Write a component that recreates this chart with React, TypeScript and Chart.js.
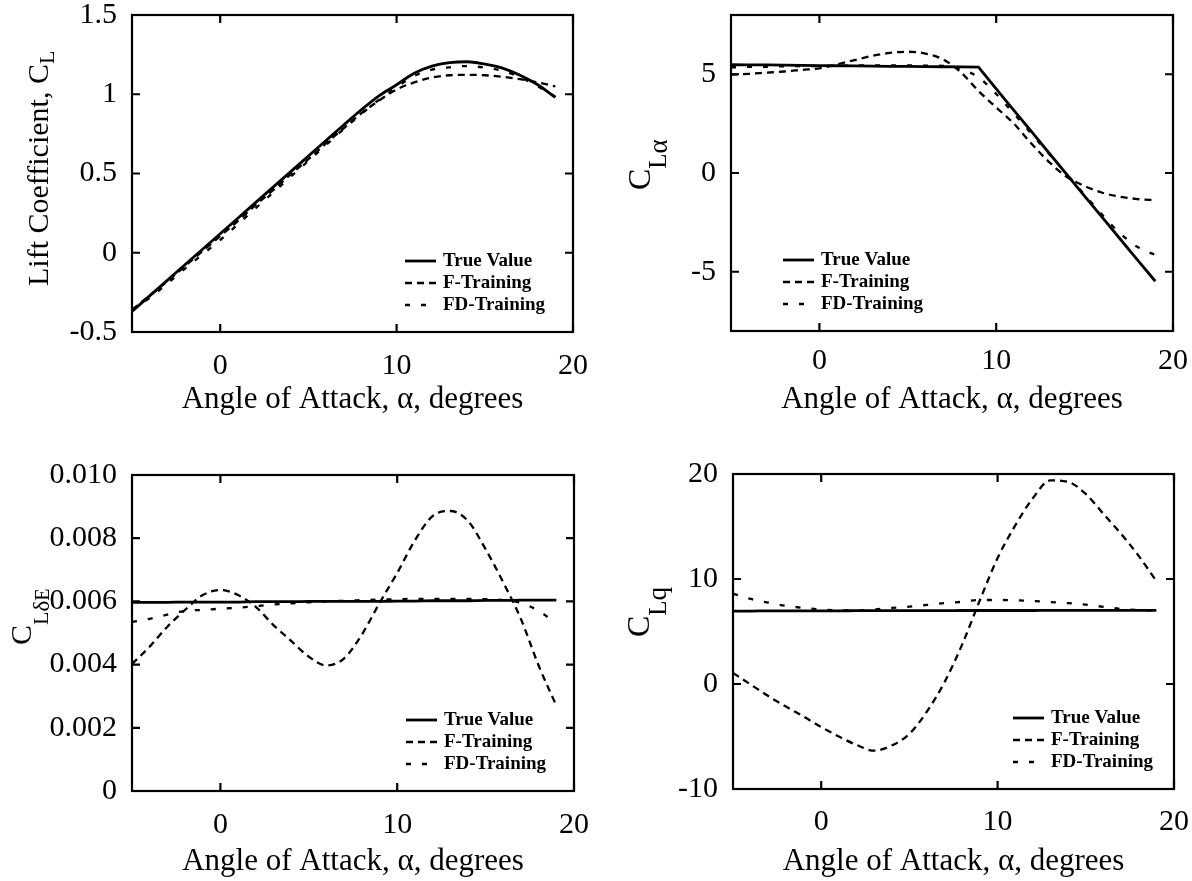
import React, { useEffect, useRef } from "react";
import { Chart, registerables } from "chart.js";

Chart.register(...registerables);

const FONT = "'Liberation Serif', 'Times New Roman', Times, serif";

// ---------- data ----------
const ALPHA = [-5, -4, -3, -2, -1, 0, 1, 2, 3, 4, 5, 6, 7, 8, 9, 10, 11, 12, 13, 14, 15, 16, 17, 18, 19];
const X_MIN = -5;
const X_MAX = 20;
const X_TICKS = [0, 10, 20];
const X_TICK_LABELS = ["0", "10", "20"];
const X_TITLE = "Angle of Attack, \u03b1, degrees";
const SERIES_LABELS = ["True Value", "F-Training", "FD-Training"];

// Lift coefficient C_L
const CL_TRUE = [-0.37, -0.272, -0.174, -0.076, 0.022, 0.12, 0.218, 0.316, 0.414, 0.512, 0.61, 0.708, 0.806, 0.902, 0.99, 1.06, 1.132, 1.177, 1.199, 1.205, 1.19, 1.165, 1.12, 1.06, 0.98];
const CL_F = [-0.36, -0.27, -0.18, -0.085, 0.01, 0.105, 0.2, 0.3, 0.395, 0.495, 0.59, 0.69, 0.785, 0.88, 0.96, 1.03, 1.075, 1.105, 1.12, 1.122, 1.12, 1.11, 1.095, 1.075, 1.05];
const CL_FD = [-0.36, -0.285, -0.195, -0.1, -0.01, 0.08, 0.18, 0.28, 0.38, 0.48, 0.58, 0.68, 0.78, 0.875, 0.965, 1.045, 1.115, 1.155, 1.17, 1.178, 1.168, 1.148, 1.108, 1.05, 0.985];
const CL_RANGE = [-0.5, 1.5];
const CL_TICKS = [-0.5, 0, 0.5, 1, 1.5];
const CL_TICK_LABELS = ["-0.5", "0", "0.5", "1", "1.5"];

// C_L_alpha
const CLA_TRUE = [5.48, 5.47, 5.47, 5.46, 5.45, 5.44, 5.43, 5.42, 5.41, 5.4, 5.4, 5.39, 5.38, 5.37, 5.36, 4.26, 3.17, 2.09, 1.0, -0.08, -1.17, -2.25, -3.33, -4.41, -5.48];
const CLA_F = [4.98, 5.02, 5.08, 5.14, 5.22, 5.3, 5.5, 5.72, 5.93, 6.08, 6.14, 6.05, 5.75, 5.1, 4.15, 3.32, 2.5, 1.48, 0.55, -0.2, -0.66, -1.0, -1.2, -1.32, -1.38];
const CLA_FD = [5.35, 5.37, 5.38, 5.4, 5.41, 5.42, 5.43, 5.44, 5.45, 5.45, 5.45, 5.44, 5.42, 5.25, 4.85, 4.0, 3.0, 1.98, 0.96, -0.06, -1.1, -2.12, -3.05, -3.75, -4.15];
const CLA_RANGE = [-8, 8];
const CLA_TICKS = [-5, 0, 5];
const CLA_TICK_LABELS = ["-5", "0", "5"];

// C_L_deltaE
const CLDE_TRUE = [0.00597, 0.00597, 0.00597, 0.00598, 0.00598, 0.00598, 0.00598, 0.00599, 0.00599, 0.00599, 0.006, 0.006, 0.006, 0.006, 0.006, 0.00601, 0.00601, 0.00602, 0.00602, 0.00602, 0.00603, 0.00603, 0.00604, 0.00604, 0.00604];
const CLDE_F = [0.00402, 0.00457, 0.0052, 0.00573, 0.0062, 0.00636, 0.0062, 0.00583, 0.00525, 0.00475, 0.00425, 0.00397, 0.0042, 0.00495, 0.00595, 0.0069, 0.00793, 0.0087, 0.00886, 0.00855, 0.00765, 0.0066, 0.00544, 0.00397, 0.0027];
const CLDE_FD = [0.00535, 0.00545, 0.00558, 0.0057, 0.00573, 0.00577, 0.0058, 0.00585, 0.0059, 0.00594, 0.00597, 0.006, 0.00602, 0.00604, 0.00606, 0.00607, 0.00608, 0.00608, 0.00608, 0.00608, 0.00607, 0.00604, 0.00595, 0.0057, 0.0053];
const CLDE_RANGE = [0, 0.01];
const CLDE_TICKS = [0, 0.002, 0.004, 0.006, 0.008, 0.01];
const CLDE_TICK_LABELS = ["0", "0.002", "0.004", "0.006", "0.008", "0.010"];

// C_L_q
const CLQ_TRUE = [6.95, 6.95, 6.96, 6.96, 6.97, 6.97, 6.97, 6.98, 6.98, 6.98, 6.99, 6.99, 6.99, 7.0, 7.0, 7.0, 7.0, 7.0, 7.01, 7.01, 7.01, 7.01, 7.02, 7.02, 7.02];
const CLQ_F = [1.05, -0.05, -1.15, -2.15, -3.1, -4.1, -5.0, -5.8, -6.35, -5.85, -4.75, -2.6, 0.2, 3.8, 8.0, 12.0, 15.1, 17.7, 19.4, 19.25, 18.1, 16.2, 14.3, 12.2, 9.8];
const CLQ_FD = [8.6, 8.1, 7.75, 7.45, 7.25, 7.1, 7.02, 7.0, 7.1, 7.25, 7.37, 7.53, 7.7, 7.83, 8.0, 8.0, 7.98, 7.9, 7.8, 7.7, 7.55, 7.35, 7.15, 7.05, 7.0];
const CLQ_RANGE = [-10, 20];
const CLQ_TICKS = [-10, 0, 10, 20];
const CLQ_TICK_LABELS = ["-10", "0", "10", "20"];

// ---------- layout ----------
type Seg = { text: string; size: number; dy: number };
type PanelDef = {
  left: number; top: number; width: number; height: number;
  area: { l: number; t: number; r: number; b: number };
  range: number[]; ticks: number[]; tickLabels: string[];
  series: number[][]; trueStraight: boolean;
  xLabelPad: number; xTitlePad: number;
  legend: { side: "left" | "right"; offset: number };
  yTitle: { x: number; y: number; segs: Seg[] };
};

const LEGEND_ROWS = [-71, -49, -27];

const PANELS: PanelDef[] = [
  {
    left: 0, top: 0, width: 600, height: 440,
    area: { l: 132, t: 15, r: 573, b: 332 },
    range: CL_RANGE, ticks: CL_TICKS, tickLabels: CL_TICK_LABELS,
    series: [CL_TRUE, CL_F, CL_FD], trueStraight: false,
    xLabelPad: 8, xTitlePad: 22,
    legend: { side: "right", offset: 130 },
    yTitle: { x: 48, y: 286, segs: [{ text: "Lift Coefficient, C", size: 30, dy: 0 }, { text: "L", size: 22, dy: 6 }] },
  },
  {
    left: 600, top: 0, width: 592, height: 440,
    area: { l: 131, t: 15, r: 573, b: 331 },
    range: CLA_RANGE, ticks: CLA_TICKS, tickLabels: CLA_TICK_LABELS,
    series: [CLA_TRUE, CLA_F, CLA_FD], trueStraight: true,
    xLabelPad: 4, xTitlePad: 22,
    legend: { side: "left", offset: 90 },
    yTitle: { x: 50, y: 190, segs: [{ text: "C", size: 32, dy: 0 }, { text: "L", size: 25, dy: 16 }, { text: "\u03b1", size: 27, dy: 17 }] },
  },
  {
    left: 0, top: 440, width: 600, height: 441,
    area: { l: 132, t: 35, r: 574, b: 351 },
    range: CLDE_RANGE, ticks: CLDE_TICKS, tickLabels: CLDE_TICK_LABELS,
    series: [CLDE_TRUE, CLDE_F, CLDE_FD], trueStraight: false,
    xLabelPad: 8, xTitlePad: 1,
    legend: { side: "right", offset: 130 },
    yTitle: { x: 31, y: 205, segs: [{ text: "C", size: 30, dy: 0 }, { text: "L", size: 22, dy: 17 }, { text: "\u03b4", size: 23, dy: 18 }, { text: "E", size: 20, dy: 18 }] },
  },
  {
    left: 600, top: 440, width: 592, height: 441,
    area: { l: 133, t: 34, r: 574, b: 349 },
    range: CLQ_RANGE, ticks: CLQ_TICKS, tickLabels: CLQ_TICK_LABELS,
    series: [CLQ_TRUE, CLQ_F, CLQ_FD], trueStraight: false,
    xLabelPad: 7, xTitlePad: 1,
    legend: { side: "right", offset: 123 },
    yTitle: { x: 49, y: 197, segs: [{ text: "C", size: 32, dy: 0 }, { text: "L", size: 25, dy: 17 }, { text: "q", size: 27, dy: 17 }] },
  },
];

const DASHES = [[], [7, 5], [5, 11]];
const WIDTHS = [2.8, 2.3, 2.3];

function makeFramePlugin(p: PanelDef) {
  return {
    id: "frameAndLegend",
    afterDraw(chart: any) {
      const { ctx, chartArea: a, scales } = chart;
      const xs = scales.x;
      const ys = scales.y;
      ctx.save();
      ctx.strokeStyle = "#000";
      ctx.fillStyle = "#000";
      ctx.setLineDash([]);
      ctx.lineWidth = 2.2;
      ctx.strokeRect(a.left, a.top, a.right - a.left, a.bottom - a.top);
      const TL = 8;
      ctx.beginPath();
      xs.ticks.forEach((t: any) => {
        const px = xs.getPixelForValue(t.value);
        ctx.moveTo(px, a.bottom); ctx.lineTo(px, a.bottom - TL);
        ctx.moveTo(px, a.top); ctx.lineTo(px, a.top + TL);
      });
      ys.ticks.forEach((t: any) => {
        const py = ys.getPixelForValue(t.value);
        ctx.moveTo(a.left, py); ctx.lineTo(a.left + TL, py);
        ctx.moveTo(a.right, py); ctx.lineTo(a.right - TL, py);
      });
      ctx.stroke();

      // legend
      const tx = p.legend.side === "right" ? a.right - p.legend.offset : a.left + p.legend.offset;
      chart.data.datasets.forEach((ds: any, i: number) => {
        const cy = a.bottom + LEGEND_ROWS[i];
        ctx.setLineDash(ds.borderDash || []);
        ctx.lineWidth = ds.borderWidth;
        ctx.beginPath();
        ctx.moveTo(tx - 38, cy);
        ctx.lineTo(tx - 7, cy);
        ctx.stroke();
        ctx.setLineDash([]);
        ctx.font = `bold 19px ${FONT}`;
        ctx.textAlign = "left";
        ctx.textBaseline = "middle";
        ctx.fillText(ds.label, tx, cy);
      });

      // rotated y title with subscripts
      ctx.save();
      ctx.translate(p.yTitle.x, p.yTitle.y);
      ctx.rotate(-Math.PI / 2);
      ctx.textAlign = "left";
      ctx.textBaseline = "alphabetic";
      let cx = 0;
      p.yTitle.segs.forEach((s) => {
        ctx.font = `${s.size}px ${FONT}`;
        ctx.fillText(s.text, cx, s.dy);
        cx += ctx.measureText(s.text).width;
      });
      ctx.restore();
      ctx.restore();
    },
  };
}

function buildConfig(p: PanelDef): any {
  const datasets = p.series.map((vals, i) => ({
    label: SERIES_LABELS[i],
    data: ALPHA.map((a, j) => ({ x: a, y: vals[j] })),
    borderColor: "#000",
    backgroundColor: "#000",
    borderWidth: WIDTHS[i],
    borderDash: DASHES[i],
    pointRadius: 0,
    fill: false,
    tension: i === 0 && p.trueStraight ? 0 : 0.4,
    cubicInterpolationMode: i === 0 && p.trueStraight ? "default" : "monotone",
  }));
  const zeroPad = (s: any) => {
    s.paddingTop = 0; s.paddingBottom = 0; s.paddingLeft = 0; s.paddingRight = 0;
  };
  return {
    type: "line",
    data: { datasets },
    plugins: [makeFramePlugin(p)],
    options: {
      responsive: false,
      animation: false,
      devicePixelRatio: 1,
      layout: { padding: { left: 0, top: p.area.t, right: p.width - p.area.r, bottom: 0 } },
      plugins: { legend: { display: false }, tooltip: { enabled: false } },
      scales: {
        x: {
          type: "linear",
          min: X_MIN,
          max: X_MAX,
          grid: { display: false },
          border: { display: false },
          afterBuildTicks: (s: any) => { s.ticks = X_TICKS.map((v) => ({ value: v })); },
          afterFit: (s: any) => { s.height = p.height - p.area.b; zeroPad(s); },
          ticks: {
            autoSkip: false, maxRotation: 0, minRotation: 0,
            padding: p.xLabelPad, color: "#000",
            font: { size: 30, family: FONT },
            callback: (v: number) => { const k = X_TICKS.indexOf(v); return k >= 0 ? X_TICK_LABELS[k] : ""; },
          },
          title: {
            display: true, text: X_TITLE, color: "#000",
            font: { size: 31, family: FONT },
            padding: { top: 0, bottom: p.xTitlePad },
          },
        },
        y: {
          type: "linear",
          min: p.range[0],
          max: p.range[1],
          grid: { display: false },
          border: { display: false },
          afterBuildTicks: (s: any) => { s.ticks = p.ticks.map((v) => ({ value: v })); },
          afterFit: (s: any) => { s.width = p.area.l; zeroPad(s); },
          ticks: {
            autoSkip: false, padding: 7, color: "#000",
            font: { size: 30, family: FONT },
            callback: (v: number) => { const k = p.ticks.indexOf(v); return k >= 0 ? p.tickLabels[k] : ""; },
          },
        },
      },
    },
  };
}

function PanelChart({ p }: { p: PanelDef }) {
  const ref = useRef<HTMLCanvasElement>(null);
  useEffect(() => {
    const chart = new Chart(ref.current as HTMLCanvasElement, buildConfig(p));
    return () => chart.destroy();
  }, [p]);
  return (
    <canvas
      ref={ref}
      width={p.width}
      height={p.height}
      style={{ position: "absolute", left: p.left, top: p.top, width: p.width, height: p.height }}
    />
  );
}

export default function App() {
  return (
    <div style={{ position: "absolute", left: 0, top: 0, width: 1192, height: 881, background: "#fff" }}>
      {PANELS.map((p, i) => (
        <PanelChart key={i} p={p} />
      ))}
    </div>
  );
}
